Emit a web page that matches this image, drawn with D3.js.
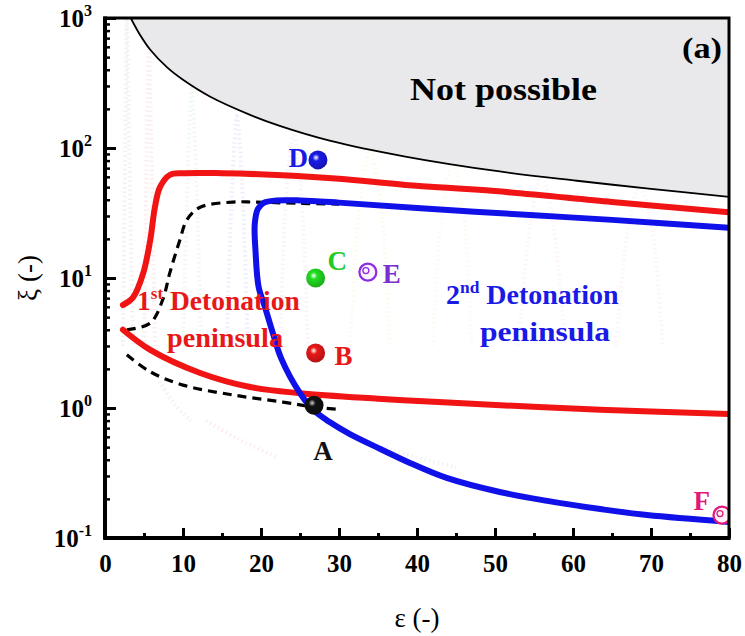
<!DOCTYPE html>
<html><head><meta charset="utf-8">
<script src="https://cdn.jsdelivr.net/npm/d3@7"></script>
<style>body{margin:0;background:#fff} svg{display:block}</style>
</head><body><svg id="c" width="745" height="636"></svg>
<script>
// ---------- data ----------
const xTicks = [0, 10, 20, 30, 40, 50, 60, 70, 80];
const xMinorTicks = [5, 15, 25, 35, 45, 55, 65, 75];
const yTickExps = [-1, 0, 1, 2, 3];

// "Not possible" boundary [eps, xi]
const limitCurve = [[3.3,1000],[4.5,740],[5.8,570],[8,415],[10,335],[13.5,248],[18.6,180],[22.4,148],[28.8,114],[38.5,86],[50.6,66],[60.5,56],[70,48.5],[80,42]];
// 1st detonation peninsula (red)
const redUpper = [[2.3,6.2],[3.6,7.1],[4.9,10.9],[5.8,19.6],[6.4,35],[7.05,50],[8.3,62],[10,64],[15,64],[22,62],[30,58],[38.5,52],[50,46.6],[65,38.5],[80,32]];
const redLower = [[2.3,4.0],[5.8,2.8],[12.2,1.86],[18.6,1.45],[25,1.3],[35,1.18],[44,1.1],[63.5,0.97],[80,0.9]];
// 2nd detonation peninsula (blue)
const blueCurve = [[80,24.3],[65,28],[54.5,30.5],[40,34.5],[30,38],[25,39.5],[22,39.5],[20.4,38],[19.6,34],[19.2,26],[19.3,16],[19.7,8.5],[20.5,6],[21.5,3.8],[22.6,2.4],[25,1.3],[26.7,0.966],[28.8,0.78],[31.4,0.63],[35.3,0.484],[39.1,0.378],[43.8,0.29],[50.6,0.226],[56.7,0.193],[63.5,0.167],[69.5,0.15],[80,0.133]];
// dashed black boundary
const dashUpper = [[2.8,4.0],[5.8,4.5],[7.4,6.8],[8.3,10.9],[9.6,19.6],[10.5,28],[12.2,35],[16.4,38.4],[19,38.4],[25,37.5],[30,37]];
const dashLower = [[2.8,2.57],[5.8,1.9],[10,1.5],[16.4,1.26],[22.8,1.11],[26.7,1.02],[29.7,0.98]];

// faint background traces
const ghostTraces = [
  {color:"#888888", pts:[[2.3,3],[2.6,100],[2.8,1000],[3.1,100],[3.6,3]]},
  {color:"#ee6666", pts:[[5.0,3],[5.3,60],[5.6,560],[6.0,60],[6.4,3]]},
  {color:"#66cc66", pts:[[10.0,3],[10.6,60],[11.1,300],[11.7,60],[12.3,3]]},
  {color:"#6666ee", pts:[[15.6,3],[16.3,50],[16.9,175],[17.6,50],[18.3,3]]},
  {color:"#cc88dd", pts:[[22.5,3],[23.2,40],[24.2,130],[25.2,40],[26,3]]},
  {color:"#dddd66", pts:[[31.5,3],[32.5,30],[34,96],[35.5,30],[36.5,3]]},
  {color:"#dddd88", pts:[[42,3],[43.2,30],[44.6,76],[46,30],[47,3]]},
  {color:"#ee99cc", pts:[[53,3],[54.5,25],[56,62],[57.5,25],[59,3]]},
  {color:"#ee99cc", pts:[[65.5,3],[67,22],[68.6,52],[70.2,22],[71.5,3]]},
  {color:"#888888", pts:[[7,1.6],[9,1.05],[11,0.8]]},
  {color:"#ee6666", pts:[[13,0.8],[17,0.58],[22,0.42]]},
  {color:"#999999", pts:[[29,0.72],[37,0.47],[45,0.35]]}
];

const points = [
  {name:"A", eps:26.8, xi:1.05, color:"#111111", hollow:false},
  {name:"B", eps:27.0, xi:2.65, color:"#e81818", hollow:false},
  {name:"C", eps:27.0, xi:10.0, color:"#22dd22", hollow:false},
  {name:"D", eps:27.3, xi:81,   color:"#1a1ae6", hollow:false},
  {name:"E", eps:33.7, xi:11.1, color:"#8a2be2", hollow:true},
  {name:"F", eps:79.1, xi:0.15, color:"#e0187a", hollow:true}
];
// label offsets in px (position only)
const labelPos = {A:[9,55,"middle"],B:[19,12,"start"],C:[12,-8,"start"],D:[-10,7,"end"],E:[15,11,"start"],F:[-12,-5,"end"]};
const labelColor = {A:"#111111",B:"#e81818",C:"#22cc22",D:"#1a1ae6",E:"#7b2fd0",F:"#e0187a"};

// ---------- layout ----------
const svg = d3.select("#c");
const M = {l:105, r:729, t:18, b:538};
const x = d3.scaleLinear().domain([0,80]).range([M.l, M.r]);
const y = d3.scaleLog().domain([0.1,1000]).range([M.b, M.t]);
const serif = "'Liberation Serif','Times New Roman',serif";

const defs = svg.append("defs");
defs.append("clipPath").attr("id","plot").append("rect")
  .attr("x",M.l).attr("y",M.t).attr("width",M.r-M.l).attr("height",M.b-M.t);

points.forEach((p,i)=>{
  const g = defs.append("radialGradient").attr("id","g"+i)
    .attr("cx","40%").attr("cy","38%").attr("r","62%");
  g.append("stop").attr("offset","0%").attr("stop-color", p.name==="A" ? "#cccccc" : "#ffffff");
  g.append("stop").attr("offset","30%").attr("stop-color", p.color);
  g.append("stop").attr("offset","100%").attr("stop-color", d3.color(p.color).darker(0.7));
});

const plot = svg.append("g").attr("clip-path","url(#plot)");

const cr = d3.line().x(d=>x(d[0])).y(d=>y(d[1])).curve(d3.curveCatmullRom.alpha(0.5));

// ghost traces
ghostTraces.forEach(g=>{
  plot.append("path").datum(g.pts).attr("d", cr).attr("fill","none")
    .attr("stroke",g.color).attr("stroke-width",4).attr("stroke-dasharray","1.5,3")
    .attr("opacity",0.12);
});

// not-possible region
const area = d3.area().x(d=>x(d[0])).y0(M.t).y1(d=>y(d[1])).curve(d3.curveCatmullRom.alpha(0.5));
plot.append("path").datum(limitCurve).attr("d", area).attr("fill","#e9e9eb");
plot.append("rect").attr("x",x(80)).attr("y",M.t).attr("width",10).attr("height",y(42)-M.t).attr("fill","#e9e9eb");
plot.append("path").datum(limitCurve).attr("d", cr)
  .attr("fill","none").attr("stroke","#000").attr("stroke-width",1.8);

// dashed
[dashUpper, dashLower].forEach(d=>{
  plot.append("path").datum(d).attr("d", cr).attr("fill","none")
    .attr("stroke","#000").attr("stroke-width",3.2).attr("stroke-dasharray","9,6");
});
// red
[redUpper, redLower].forEach(d=>{
  plot.append("path").datum(d).attr("d", cr).attr("fill","none")
    .attr("stroke","#f01414").attr("stroke-width",6).attr("stroke-linecap","round");
});
// blue
plot.append("path").datum(blueCurve).attr("d", cr).attr("fill","none")
  .attr("stroke","#1010e8").attr("stroke-width",6).attr("stroke-linecap","round");

// points
points.forEach((p,i)=>{
  const cx = x(p.eps), cy = y(p.xi);
  if (!p.hollow) {
    plot.append("circle").attr("cx",cx).attr("cy",cy).attr("r",9.5).attr("fill","url(#g"+i+")");
  } else {
    plot.append("circle").attr("cx",cx).attr("cy",cy).attr("r",8.5).attr("fill","#fbf2fb")
      .attr("stroke",p.color).attr("stroke-width",2.2);
    plot.append("circle").attr("cx",cx-2).attr("cy",cy-1.5).attr("r",3).attr("fill","none")
      .attr("stroke",p.color).attr("stroke-width",1.3);
  }
  const lp = labelPos[p.name];
  svg.append("text").attr("x",cx+lp[0]).attr("y",cy+lp[1]).attr("text-anchor",lp[2])
    .attr("font-family",serif).attr("font-weight","bold").attr("font-size",27)
    .attr("fill",labelColor[p.name]).text(p.name);
});

// region labels
svg.append("text").attr("font-family",serif).attr("font-weight","bold")
  .attr("font-size",31).attr("textLength",187).attr("lengthAdjust","spacingAndGlyphs")
  .attr("fill","#000").attr("x",410).attr("y",100).text("Not possible");
svg.append("text").attr("x",682).attr("y",58).attr("font-family",serif).attr("font-weight","bold")
  .attr("font-size",29).attr("textLength",40).attr("lengthAdjust","spacingAndGlyphs").text("(a)");

function peninsula(x0, yb, sup, color, fs, xp, wp) {
  const t = svg.append("text").attr("x",x0).attr("y",yb).attr("font-family",serif)
    .attr("font-weight","bold").attr("font-size",fs).attr("fill",color);
  t.append("tspan").text(sup[0]);
  t.append("tspan").attr("dy",-11).attr("font-size",fs*0.62).text(sup[1]);
  t.append("tspan").attr("dy",11).text(" Detonation");
  svg.append("text").attr("x",xp).attr("y",yb+37).attr("font-family",serif)
    .attr("font-weight","bold").attr("font-size",fs).attr("fill",color)
    .attr("textLength",wp).attr("lengthAdjust","spacingAndGlyphs").text("peninsula");
}
peninsula(137, 310, ["1","st"], "#e81818", 27.5, 167, 116);
peninsula(446, 304, ["2","nd"], "#1a1ae6", 28, 480, 130);

// axes
const ax = svg.append("g");
const xAxis = d3.axisBottom(x).tickValues(xTicks).tickSizeInner(-10).tickSizeOuter(0).tickPadding(16).tickFormat(d3.format("d"));
const gx = ax.append("g").attr("transform",`translate(0,${M.b})`).call(xAxis);
gx.selectAll(".tick line").attr("stroke-width",3);
gx.selectAll(".tick text").attr("font-family",serif).attr("font-weight","bold").attr("font-size",25).attr("fill","#000").attr("dy","0.71em");
gx.select(".domain").remove();
const gxm = ax.append("g").attr("transform",`translate(0,${M.b})`)
  .call(d3.axisBottom(x).tickValues(xMinorTicks).tickSizeInner(-5).tickSizeOuter(0).tickFormat(""));
gxm.select(".domain").remove(); gxm.selectAll(".tick line").attr("stroke-width",3);

const yMajor = yTickExps.map(e=>Math.pow(10,e));
const yMinor = [];
yTickExps.slice(0,-1).forEach(e=>{ for(let k=2;k<=9;k++) yMinor.push(k*Math.pow(10,e)); });
const gy = ax.append("g").attr("transform",`translate(${M.l},0)`)
  .call(d3.axisLeft(y).tickValues(yMajor).tickSizeInner(-11).tickSizeOuter(0).tickFormat(""));
gy.select(".domain").remove(); gy.selectAll(".tick line").attr("stroke-width",3);
const gym = ax.append("g").attr("transform",`translate(${M.l},0)`)
  .call(d3.axisLeft(y).tickValues(yMinor).tickSizeInner(-5).tickSizeOuter(0).tickFormat(""));
gym.select(".domain").remove(); gym.selectAll(".tick line").attr("stroke-width",2.5);
yTickExps.forEach(e=>{
  const t = svg.append("text").attr("x",M.l-13).attr("y",y(Math.pow(10,e))+9).attr("text-anchor","end")
    .attr("font-family",serif).attr("font-weight","bold").attr("font-size",25).attr("fill","#000");
  t.append("tspan").text("10");
  t.append("tspan").attr("dy",-11).attr("font-size",16).text(e);
});

// frame
svg.append("rect").attr("x",M.l).attr("y",M.t).attr("width",M.r-M.l).attr("height",M.b-M.t)
  .attr("fill","none").attr("stroke","#000").attr("stroke-width",3);
svg.append("line").attr("x1",M.l).attr("x2",M.l).attr("y1",M.t-1.5).attr("y2",M.b+1.5).attr("stroke","#000").attr("stroke-width",4);
svg.append("line").attr("x1",M.l-1.5).attr("x2",M.r+1.5).attr("y1",M.b).attr("y2",M.b).attr("stroke","#000").attr("stroke-width",4);

// axis titles
svg.append("text").attr("x",417).attr("y",627).attr("text-anchor","middle").attr("font-family",serif)
  .attr("font-size",27).attr("fill","#000").text("ε (-)");
svg.append("text").attr("transform","translate(37,278) rotate(-90)").attr("text-anchor","middle")
  .attr("font-family",serif).attr("font-size",27).attr("fill","#000").text("ξ (-)");
</script></body></html>
